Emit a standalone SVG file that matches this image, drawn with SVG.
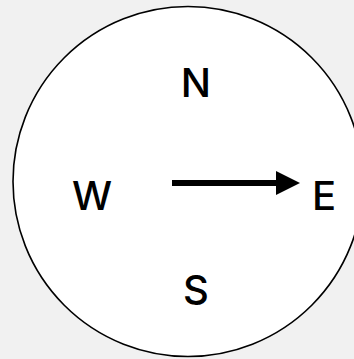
<svg xmlns="http://www.w3.org/2000/svg" width="354" height="359" viewBox="0 0 354 359">
  <defs>
    <style>
      .lbl { font-family: Inter, "Liberation Sans", Arial, sans-serif; font-weight: 500; font-size: 40px; fill: #000; text-anchor: middle; }
    </style>
    <marker id="ah" markerWidth="4" markerHeight="4" refX="0" refY="2" orient="auto" markerUnits="strokeWidth">
      <path d="M0,0 L4,2 L0,4 Z" fill="#000"/>
    </marker>
  </defs>
  <rect width="354" height="359" fill="#f1f1f1"/>
  <g id="compass">
    <circle cx="188" cy="181.5" r="175" fill="#fff" stroke="#000" stroke-width="1.6"/>
  </g>
  <g id="connectors">
    <line x1="172" y1="183" x2="276" y2="183" stroke="#000" stroke-width="6" marker-end="url(#ah)"/>
  </g>
  <g id="N"><text class="lbl" x="196" y="97">N</text></g>
  <g id="W"><text class="lbl" x="92" y="210">W</text></g>
  <g id="E"><text class="lbl" x="324" y="210">E</text></g>
  <g id="S"><text class="lbl" x="196" y="304">S</text></g>
</svg>
